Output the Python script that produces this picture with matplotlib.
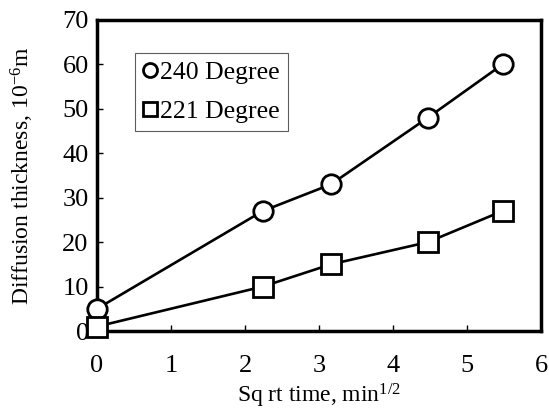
"""Diffusion thickness against square-root time for two temperatures."""

import matplotlib

matplotlib.use("Agg")
import matplotlib.pyplot as plt  # noqa: E402

SQRT_TIME = [0.0, 2.24, 3.16, 4.47, 5.48]
THICK_240 = [5.0, 27.0, 33.0, 48.0, 60.0]
THICK_221 = [1.0, 10.0, 15.0, 20.0, 27.0]
SERIES_LABELS = ["240 Degree", "221 Degree"]
X_TICKS = [0, 1, 2, 3, 4, 5, 6]
Y_TICKS = [0, 10, 20, 30, 40, 50, 60, 70]

plt.rcParams.update(
    {
        "font.family": ["Liberation Serif", "DejaVu Serif"],
        "mathtext.fontset": "custom",
        "mathtext.rm": "Liberation Serif",
        "mathtext.it": "Liberation Serif:italic",
        "font.size": 17,
    }
)

figure = plt.figure(figsize=(5.49, 4.16), dpi=100)
axis = figure.add_axes([97 / 549, 1 - 331 / 416, (541 - 97) / 549, (331 - 20) / 416])

style = dict(color="black", linewidth=1.9, markerfacecolor="white",
             markeredgecolor="black", markeredgewidth=2.0, markersize=14,
             clip_on=False, zorder=3)
axis.plot(SQRT_TIME, THICK_240, marker="o", label=SERIES_LABELS[0], **style)
axis.plot(SQRT_TIME, THICK_221, marker="s", label=SERIES_LABELS[1], **style)

axis.set_xlim(0, 6)
axis.set_ylim(0, 70)
axis.set_xticks(X_TICKS)
axis.set_yticks(Y_TICKS)
axis.tick_params(direction="in", length=4, width=1.0, labelsize=19)
axis.tick_params(axis="x", pad=17)
axis.tick_params(axis="y", pad=6)
for spine in axis.spines.values():
    spine.set_linewidth(2.5)

axis.set_xlabel(r"Sq rt time, min$^{1/2}$", fontsize=17, labelpad=4)
axis.set_ylabel(r"Diffusion thickness, 10$^{-6}$m", fontsize=17, labelpad=19)

legend = axis.legend(
    loc="upper left",
    bbox_to_anchor=((135 - 97) / 444, (331 - 53) / 311),
    borderaxespad=0,
    fontsize=18.5,
    frameon=True,
    fancybox=False,
    handlelength=0.5,
    handletextpad=0.15,
    borderpad=0.33,
    labelspacing=0.6,
    markerscale=0.72,
)
legend.get_frame().set_edgecolor("#333333")
legend.get_frame().set_linewidth(0.8)
for handle in legend.get_lines():
    handle.set_linestyle("none")

figure.savefig("out.png", dpi=100, facecolor="white")
